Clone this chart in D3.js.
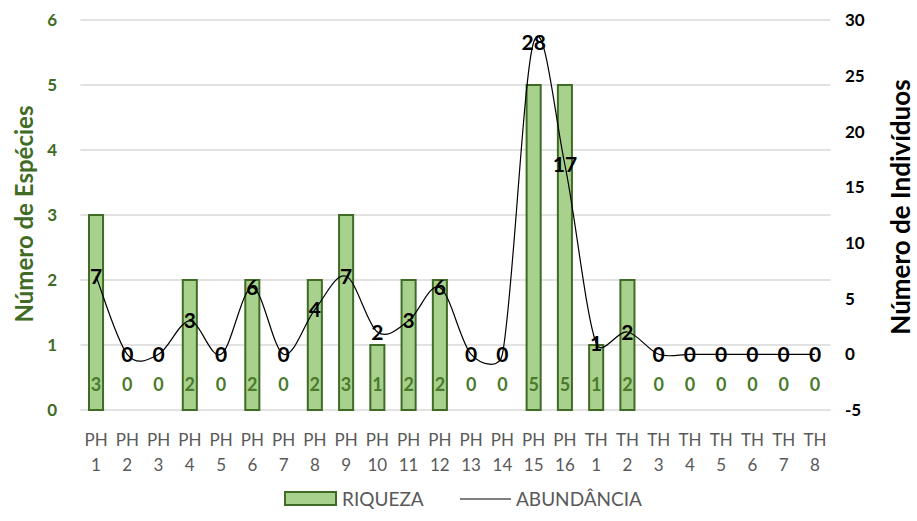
<!DOCTYPE html>
<html>
<head>
<meta charset="utf-8">
<script src="https://cdn.jsdelivr.net/npm/d3@7"></script>
<style>
  body { margin: 0; background: #fff; }
  svg { display: block; font-family: Lato, "Open Sans", sans-serif; }
</style>
</head>
<body>
<svg id="chart" width="917" height="521"></svg>
<script>
// Sampling points: prefix line and number line of each x label
const sitePrefix = ["PH","PH","PH","PH","PH","PH","PH","PH","PH","PH","PH","PH","PH","PH","PH","PH",
                    "TH","TH","TH","TH","TH","TH","TH","TH"];
const siteNumber = ["1","2","3","4","5","6","7","8","9","10","11","12","13","14","15","16",
                    "1","2","3","4","5","6","7","8"];
// Species richness (bars, left axis)
const riqueza = [3,0,0,2,0,2,0,2,3,1,2,2,0,0,5,5,1,2,0,0,0,0,0,0];
// Number of individuals (line, right axis)
const abundancia = [7,0,0,3,0,6,0,4,7,2,3,6,0,0,28,17,1,2,0,0,0,0,0,0];
const leftTicks = [0,1,2,3,4,5,6];
const rightTicks = [-5,0,5,10,15,20,25,30];

const svg = d3.select("#chart");
const plot = { left: 80.4, right: 830.6, top: 20, bottom: 410 };
const keys = sitePrefix.map((p, i) => p + " " + siteNumber[i] + "#" + i);

const x = d3.scaleBand().domain(keys).range([plot.left, plot.right]).padding(0);
const yL = d3.scaleLinear().domain([0, 6]).range([plot.bottom, plot.top]);
const yR = d3.scaleLinear().domain([-5, 30]).range([plot.bottom, plot.top]);
const cx = i => x(keys[i]) + x.bandwidth() / 2;

const green = "#3f6b24";
const labelGreen = "#4a7a2c";
const gray = "#595959";

// Horizontal gridlines on the left-axis ticks
svg.append("g").selectAll("line").data(leftTicks).join("line")
  .attr("x1", plot.left).attr("x2", plot.right)
  .attr("y1", d => yL(d)).attr("y2", d => yL(d))
  .attr("stroke", "#d9d9d9").attr("stroke-width", 1.5);

// Left axis tick labels
svg.append("g").selectAll("text").data(leftTicks).join("text")
  .attr("x", 57).attr("y", d => yL(d)).attr("dy", "0.36em")
  .attr("text-anchor", "end")
  .attr("font-size", 17).attr("font-weight", "bold").attr("fill", green)
  .text(d => d);

// Right axis tick labels
svg.append("g").selectAll("text").data(rightTicks).join("text")
  .attr("x", 845).attr("y", d => yR(d)).attr("dy", "0.36em")
  .attr("text-anchor", "start")
  .attr("font-size", 17).attr("font-weight", "bold").attr("fill", "#000")
  .text(d => d);

// Axis titles
svg.append("text")
  .attr("transform", "translate(24,214) rotate(-90)")
  .attr("text-anchor", "middle").attr("dy", "0.36em")
  .attr("font-size", 24).attr("font-weight", "bold").attr("fill", green)
  .text("Número de Espécies");
svg.append("text")
  .attr("transform", "translate(901,207) rotate(-90)")
  .attr("text-anchor", "middle").attr("dy", "0.36em")
  .attr("font-size", 26).attr("font-weight", "bold").attr("fill", "#000")
  .text("Número de Indivíduos");

// Bars
const barW = x.bandwidth() * 0.45;
svg.append("g").selectAll("rect").data(riqueza).join("rect")
  .attr("x", (d, i) => cx(i) - barW / 2)
  .attr("y", d => yL(d))
  .attr("width", barW)
  .attr("height", d => yL(0) - yL(d))
  .attr("fill", "#a9d18e")
  .attr("stroke", green).attr("stroke-width", 2)
  .attr("display", d => d > 0 ? null : "none");

// Bar value labels
svg.append("g").selectAll("text").data(riqueza).join("text")
  .attr("x", (d, i) => cx(i)).attr("y", 385).attr("dy", "0.36em")
  .attr("text-anchor", "middle")
  .attr("font-size", 18).attr("font-weight", "bold").attr("fill", labelGreen)
  .text(d => d);

// Smoothed line: cubic Bezier segments whose control arms are 1/6 of the
// neighbour chord, capped at half of the segment length.
function smoothPath(pts) {
  const p = d3.path();
  const dist = (a, b) => Math.hypot(b[0] - a[0], b[1] - a[1]);
  p.moveTo(pts[0][0], pts[0][1]);
  for (let i = 0; i < pts.length - 1; i++) {
    const p0 = pts[i - 1] || pts[i], p1 = pts[i], p2 = pts[i + 1], p3 = pts[i + 2] || pts[i + 1];
    const d12 = dist(p1, p2), d02 = dist(p0, p2), d13 = dist(p1, p3);
    let f1 = 1 / 6, f2 = 1 / 6;
    if (d02 / 6 > d12 / 2) f1 = d12 / (2 * d02);
    if (d13 / 6 > d12 / 2) f2 = d12 / (2 * d13);
    const c1 = [p1[0] + (p2[0] - p0[0]) * f1, p1[1] + (p2[1] - p0[1]) * f1];
    const c2 = [p2[0] - (p3[0] - p1[0]) * f2, p2[1] - (p3[1] - p1[1]) * f2];
    p.bezierCurveTo(c1[0], c1[1], c2[0], c2[1], p2[0], p2[1]);
  }
  return p.toString();
}
const linePts = abundancia.map((d, i) => [cx(i), yR(d)]);
svg.append("path")
  .attr("d", smoothPath(linePts))
  .attr("fill", "none").attr("stroke", "#000").attr("stroke-width", 1.2);

// Line value labels
svg.append("g").selectAll("text").data(abundancia).join("text")
  .attr("x", (d, i) => cx(i)).attr("y", d => yR(d)).attr("dy", "0.36em")
  .attr("text-anchor", "middle")
  .attr("font-size", 21).attr("font-weight", "bold").attr("fill", "#000")
  .text(d => d);

// Category labels (two lines)
const xl = svg.append("g").selectAll("g").data(keys).join("g");
xl.append("text")
  .attr("x", (d, i) => cx(i)).attr("y", 439.5).attr("dy", "0.36em")
  .attr("text-anchor", "middle").attr("font-size", 17).attr("fill", gray)
  .text((d, i) => sitePrefix[i]);
xl.append("text")
  .attr("x", (d, i) => cx(i)).attr("y", 465).attr("dy", "0.36em")
  .attr("text-anchor", "middle").attr("font-size", 17).attr("fill", gray)
  .text((d, i) => siteNumber[i]);

// Legend
const lg = svg.append("g");
lg.append("rect").attr("x", 285).attr("y", 492).attr("width", 51).attr("height", 13)
  .attr("fill", "#a9d18e").attr("stroke", green).attr("stroke-width", 2);
lg.append("text").attr("x", 342).attr("y", 499).attr("dy", "0.36em")
  .attr("font-size", 19).attr("fill", gray).text("RIQUEZA");
lg.append("line").attr("x1", 460).attr("x2", 511).attr("y1", 499).attr("y2", 499)
  .attr("stroke", "#000").attr("stroke-width", 1.2);
lg.append("text").attr("x", 516).attr("y", 499).attr("dy", "0.36em")
  .attr("font-size", 19).attr("fill", gray).text("ABUNDÂNCIA");
</script>
</body>
</html>
